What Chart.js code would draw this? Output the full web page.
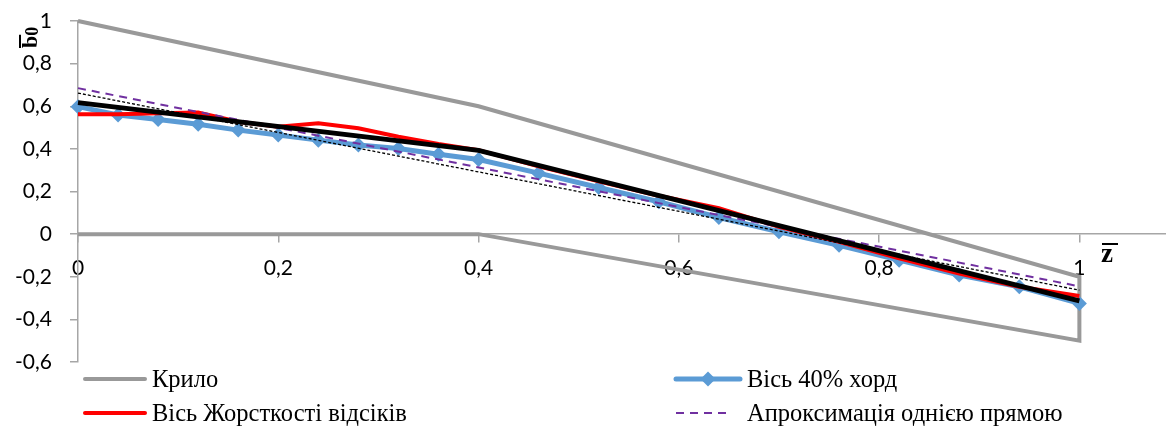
<!DOCTYPE html>
<html>
<head>
<meta charset="utf-8">
<script src="https://cdn.jsdelivr.net/npm/chart.js@4"></script>
<style>
  html, body { margin: 0; padding: 0; background: #fff; overflow: hidden; }
  #wrap { width: 1174px; height: 428px; position: relative; }
</style>
</head>
<body>
<div id="wrap"><canvas id="myChart"></canvas></div>
<script>
// z positions of the measured points
const zPoints = [0, 0.04, 0.08, 0.12, 0.16, 0.2, 0.24, 0.28, 0.32, 0.36, 0.4,
  0.46, 0.52, 0.58, 0.64, 0.7, 0.76, 0.82, 0.88, 0.94, 1];
// Вісь 40% хорд
const axis40 = [0.598, 0.559, 0.538, 0.516, 0.488, 0.465, 0.441, 0.418, 0.402, 0.375, 0.35,
  0.286, 0.219, 0.152, 0.078, 0.011, -0.052, -0.122, -0.192, -0.247, -0.325];
// Вісь Жорсткості відсіків
const stiffAxis = [0.562, 0.562, 0.567, 0.571, 0.527, 0.504, 0.52, 0.497, 0.457, 0.423, 0.394,
  0.318, 0.248, 0.18, 0.122, 0.034, -0.036, -0.114, -0.185, -0.247, -0.29];
// Крило (outline)
const wingZ = [0, 0.4, 1, 1, 0.4, 0];
const wingB = [1, 0.6, -0.2, -0.5, 0, 0];
// two-segment approximation (black)
const brokenZ = [0, 0.4, 1];
const brokenB = [0.617, 0.393, -0.313];
// Апроксимація однією прямою
const approxZ = [0, 1];
const approxB = [0.685, -0.245];
// thin dotted straight line
const dottedZ = [0, 1];
const dottedB = [0.662, -0.263];

const xTicks = [0, 0.2, 0.4, 0.6, 0.8, 1];

function pts(xs, ys) {
  return xs.map((x, i) => ({ x: x, y: ys[i] }));
}

function fmt(v) {
  return String(Math.round(v * 10) / 10).replace('.', ',');
}

const axisGray = '#a6a6a6';
const tickFont = { family: 'Lato', size: 21 };

function noPad(s) {
  s.paddingLeft = 0; s.paddingRight = 0;
  s.paddingTop = 0; s.paddingBottom = 0;
}

// legend and axis titles drawn on the canvas
const extras = {
  id: 'extras',
  afterDraw(chart) {
    const c = chart.ctx;
    const ds = chart.data.datasets;
    c.save();
    c.font = '24.5px "Liberation Serif"';
    c.textBaseline = 'middle';
    c.fillStyle = '#000';
    const items = [
      { ds: ds[0], x: 85, y: 379, w: 60, tx: 152 },
      { ds: ds[1], x: 676, y: 379, w: 64, tx: 747, marker: true },
      { ds: ds[2], x: 85, y: 413, w: 60, tx: 152 },
      { ds: ds[4], x: 676, y: 413, w: 54, tx: 747 }
    ];
    items.forEach(it => {
      c.save();
      c.strokeStyle = it.ds.borderColor;
      c.lineWidth = it.ds.borderWidth;
      c.setLineDash(it.ds.borderDash || []);
      c.lineCap = it.ds.borderDash ? 'butt' : 'round';
      c.beginPath();
      c.moveTo(it.x, it.y);
      c.lineTo(it.x + it.w, it.y);
      c.stroke();
      c.restore();
      if (it.marker) {
        const cx = it.x + it.w / 2, r = 7.5;
        c.fillStyle = it.ds.pointBackgroundColor;
        c.beginPath();
        c.moveTo(cx - r, it.y); c.lineTo(cx, it.y - r);
        c.lineTo(cx + r, it.y); c.lineTo(cx, it.y + r);
        c.closePath();
        c.fill();
        c.fillStyle = '#000';
      }
      c.fillText(it.ds.label, it.tx, it.y + 2);
    });

    // y title: b̄0 rotated
    c.save();
    c.translate(30, 37);
    c.rotate(-Math.PI / 2);
    c.fillStyle = '#000';
    c.strokeStyle = '#000';
    c.font = 'bold 22px "Liberation Serif"';
    c.textAlign = 'left';
    c.textBaseline = 'alphabetic';
    const bw = c.measureText('b').width;
    c.fillText('b', -11, 7);
    c.font = 'bold 18px "Liberation Serif"';
    c.fillText('0', -11 + bw, 8);
    c.lineWidth = 2;
    c.beginPath();
    c.moveTo(-11, -10);
    c.lineTo(-11 + bw + 1, -10);
    c.stroke();
    c.restore();

    // x title: z̄
    c.fillStyle = '#000';
    c.strokeStyle = '#000';
    c.font = 'bold 27px "Liberation Serif"';
    c.textAlign = 'left';
    c.textBaseline = 'alphabetic';
    c.fillText('z', 1101, 262);
    c.lineWidth = 2;
    c.beginPath();
    c.moveTo(1102, 244);
    c.lineTo(1118, 244);
    c.stroke();
    c.restore();
  }
};

new Chart(document.getElementById('myChart'), {
  type: 'scatter',
  data: {
    datasets: [
      {
        label: 'Крило',
        data: pts(wingZ, wingB),
        showLine: true,
        borderColor: '#999999',
        borderWidth: 4,
        pointRadius: 0,
        clip: false,
        order: 6
      },
      {
        label: 'Вісь 40% хорд',
        data: pts(zPoints, axis40),
        showLine: true,
        borderColor: '#5b9bd5',
        backgroundColor: '#5b9bd5',
        pointBackgroundColor: '#5b9bd5',
        pointBorderWidth: 0,
        borderWidth: 5,
        pointStyle: 'rectRot',
        pointRadius: 7.5,
        clip: false,
        order: 5
      },
      {
        label: 'Вісь Жорсткості відсіків',
        data: pts(zPoints, stiffAxis),
        showLine: true,
        borderColor: '#ff0000',
        borderWidth: 4,
        pointRadius: 0,
        clip: false,
        order: 4
      },
      {
        label: 'broken',
        data: pts(brokenZ, brokenB),
        showLine: true,
        borderColor: '#000000',
        borderWidth: 5,
        pointRadius: 0,
        clip: false,
        order: 1
      },
      {
        label: 'Апроксимація однією прямою',
        data: pts(approxZ, approxB),
        showLine: true,
        borderColor: '#7030a0',
        borderWidth: 2,
        borderDash: [8, 6],
        pointRadius: 0,
        clip: false,
        order: 2
      },
      {
        label: 'dotted',
        data: pts(dottedZ, dottedB),
        showLine: true,
        borderColor: '#000000',
        borderWidth: 1.3,
        borderDash: [3, 2],
        pointRadius: 0,
        clip: false,
        order: 3
      }
    ]
  },
  options: {
    animation: false,
    responsive: true,
    maintainAspectRatio: false,
    layout: { padding: { top: 21, bottom: 66, left: 0, right: 0 } },
    plugins: {
      legend: { display: false },
      tooltip: { enabled: false }
    },
    scales: {
      x: {
        type: 'linear',
        position: { y: 0 },
        min: 0,
        max: 1.087,
        afterBuildTicks: s => { s.ticks = xTicks.map(v => ({ value: v })); },
        afterFit: noPad,
        ticks: {
          callback: v => fmt(v),
          font: tickFont,
          color: '#000',
          padding: 14,
          maxRotation: 0,
          autoSkip: false
        },
        grid: { drawOnChartArea: false, color: axisGray, tickLength: 8, lineWidth: 1.5 },
        border: { color: axisGray, width: 1.5 }
      },
      y: {
        type: 'linear',
        min: -0.6,
        max: 1,
        afterFit: s => { s.width = 78; noPad(s); },
        ticks: {
          stepSize: 0.2,
          callback: v => fmt(v),
          font: tickFont,
          color: '#000',
          padding: 18
        },
        grid: { drawOnChartArea: false, color: axisGray, tickLength: 8, lineWidth: 1.5 },
        border: { color: axisGray, width: 1.5 }
      }
    }
  },
  plugins: [extras]
});
</script>
</body>
</html>
